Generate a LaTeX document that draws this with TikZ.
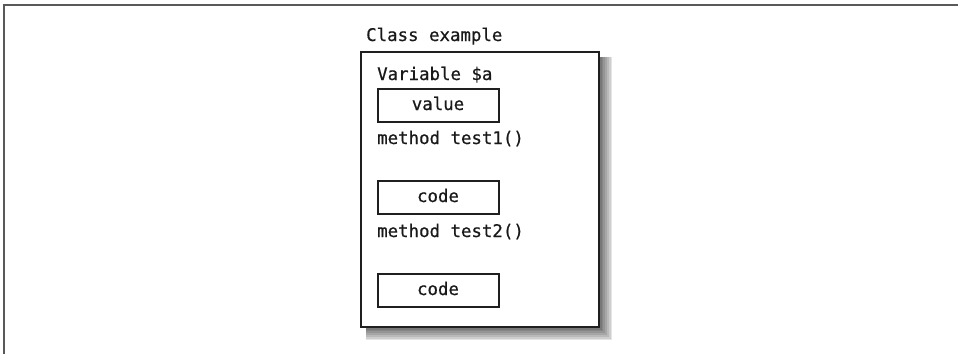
\documentclass[tikz,border=0pt]{standalone}
\usepackage{fontspec}
\newfontfamily\codefont[FakeBold=0.6]{DejaVu Sans Mono}
\begin{document}
\begin{tikzpicture}[x=1pt,y=-1pt,
  txt/.style={font=\codefont\fontsize{17.4}{19}\selectfont, inner sep=0pt, text=black!90},
  lbl/.style={txt, anchor=base west},
  cell/.style={draw=black!88, line width=1.8pt, fill=white, minimum width=121pt, minimum height=33pt, inner sep=0pt, anchor=north west},
  mainbox/.style={draw=black!88, line width=2.4pt, fill=white},
  frameline/.style={draw=black!65, line width=1.6pt}
]
\useasboundingbox (0,0) rectangle (958,354);
% outer frame (open at right and bottom)
\draw[frameline] (4,354) -- (4,5) -- (958,5);
% shadow
\foreach \k in {1,...,8}{
  \fill[black, opacity=0.1] (366,57) rectangle ({598+1.8*\k},{326+1.8*\k});
}
% main box
\node[mainbox, minimum width=238pt, minimum height=275pt, anchor=north west, inner sep=0pt] (cls) at (360,51) {};
\node[lbl] (title) at (366,41) {Class example};
\node[lbl] (var) at (377,80) {Variable \$a};
\node[cell] (val) at (377,88) {};
\node[txt, anchor=base] (valt) at (438,110) {value};
\node[lbl] (m1) at (377,144) {method test1()};
\node[cell] (c1) at (377,180) {};
\node[txt, anchor=base] (c1t) at (438,202) {code};
\node[lbl] (m2) at (377,237) {method test2()};
\node[cell] (c2) at (377,273) {};
\node[txt, anchor=base] (c2t) at (438,295) {code};
\end{tikzpicture}
\end{document}
